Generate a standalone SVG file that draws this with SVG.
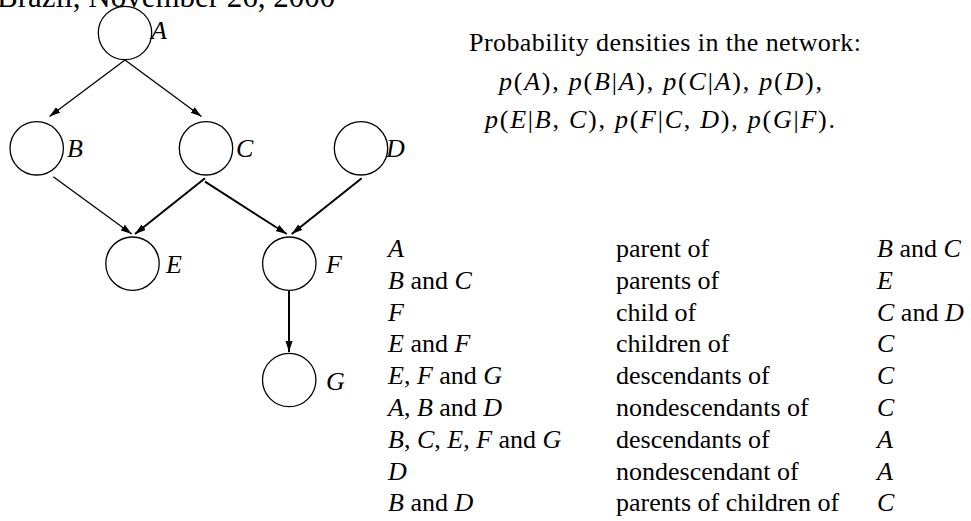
<svg xmlns="http://www.w3.org/2000/svg" width="971" height="521" viewBox="0 0 971 521">
<defs>
<marker id="ah" markerUnits="userSpaceOnUse" markerWidth="12" markerHeight="8" refX="11" refY="3.5" orient="auto">
<path d="M0,0 L11,3.5 L0,7 z" fill="#000"/>
</marker>
</defs>
<style>
.t{font-family:"Liberation Serif","Times New Roman",serif;font-size:26px;fill:#000}
.m{font-style:italic}
.lbl{font-family:"Liberation Serif","Times New Roman",serif;font-style:italic;font-size:26px;fill:#000}
.n{fill:#fff;stroke:#000;stroke-width:1.3}
.e{fill:none;stroke:#000;stroke-width:1.3;marker-end:url(#ah)}
.ek{fill:none;stroke:#000;stroke-width:2;marker-end:url(#ah)}
</style>
<rect width="971" height="521" fill="#fff"/>
<text class="t" x="-3" y="7" style="font-size:31px">Brazil, November 26, 2000</text>

<g id="connectors">
<line class="e" x1="125" y1="60" x2="49.5" y2="116.5"/>
<line class="e" x1="125" y1="60" x2="201.5" y2="116.5"/>
<line class="e" x1="53.3" y1="176.7" x2="131.7" y2="234"/>
<line class="ek" x1="205" y1="178.3" x2="135" y2="234"/>
<line class="ek" x1="205" y1="181.7" x2="286.7" y2="234"/>
<line class="ek" x1="361.7" y1="178.3" x2="291.7" y2="234"/>
<line class="ek" x1="289" y1="291" x2="289" y2="352"/>
</g>

<g id="node-A"><circle class="n" cx="125" cy="33" r="26.7"/><text class="lbl" x="151" y="38.5">A</text></g>
<g id="node-B"><circle class="n" cx="36.7" cy="148.3" r="26.7"/><text class="lbl" x="67" y="157">B</text></g>
<g id="node-C"><circle class="n" cx="206" cy="148.3" r="26.7"/><text class="lbl" x="236" y="157">C</text></g>
<g id="node-D"><circle class="n" cx="361" cy="148.3" r="26.7"/><text class="lbl" x="386" y="157">D</text></g>
<g id="node-E"><circle class="n" cx="132.5" cy="263.7" r="26.7"/><text class="lbl" x="166" y="273">E</text></g>
<g id="node-F"><circle class="n" cx="289.3" cy="263.7" r="26.7"/><text class="lbl" x="326" y="273">F</text></g>
<g id="node-G"><circle class="n" cx="289.2" cy="380" r="26.7"/><text class="lbl" x="326" y="390">G</text></g>

<g id="densities">
<text class="t" x="469" y="51" textLength="392" lengthAdjust="spacing">Probability densities in the network:</text>
<text class="t" x="499" y="90" textLength="323" lengthAdjust="spacing"><tspan class="m">p</tspan>(<tspan class="m">A</tspan>), <tspan class="m">p</tspan>(<tspan class="m">B</tspan>|<tspan class="m">A</tspan>), <tspan class="m">p</tspan>(<tspan class="m">C</tspan>|<tspan class="m">A</tspan>), <tspan class="m">p</tspan>(<tspan class="m">D</tspan>),</text>
<text class="t" x="485" y="128" textLength="350" lengthAdjust="spacing"><tspan class="m">p</tspan>(<tspan class="m">E</tspan>|<tspan class="m">B</tspan>, <tspan class="m">C</tspan>), <tspan class="m">p</tspan>(<tspan class="m">F</tspan>|<tspan class="m">C</tspan>, <tspan class="m">D</tspan>), <tspan class="m">p</tspan>(<tspan class="m">G</tspan>|<tspan class="m">F</tspan>).</text>
</g>

<g id="table">
<text class="t" x="388" y="257"><tspan class="m">A</tspan></text>
<text class="t" x="616" y="257">parent of</text>
<text class="t" x="877" y="257"><tspan class="m">B</tspan> and <tspan class="m">C</tspan></text>

<text class="t" x="388" y="288.8"><tspan class="m">B</tspan> and <tspan class="m">C</tspan></text>
<text class="t" x="616" y="288.8">parents of</text>
<text class="t" x="877" y="288.8"><tspan class="m">E</tspan></text>

<text class="t" x="388" y="320.6"><tspan class="m">F</tspan></text>
<text class="t" x="616" y="320.6">child of</text>
<text class="t" x="877" y="320.6"><tspan class="m">C</tspan> and <tspan class="m">D</tspan></text>

<text class="t" x="388" y="352.4"><tspan class="m">E</tspan> and <tspan class="m">F</tspan></text>
<text class="t" x="616" y="352.4">children of</text>
<text class="t" x="877" y="352.4"><tspan class="m">C</tspan></text>

<text class="t" x="388" y="384.2"><tspan class="m">E</tspan>, <tspan class="m">F</tspan> and <tspan class="m">G</tspan></text>
<text class="t" x="616" y="384.2">descendants of</text>
<text class="t" x="877" y="384.2"><tspan class="m">C</tspan></text>

<text class="t" x="388" y="416"><tspan class="m">A</tspan>, <tspan class="m">B</tspan> and <tspan class="m">D</tspan></text>
<text class="t" x="616" y="416">nondescendants of</text>
<text class="t" x="877" y="416"><tspan class="m">C</tspan></text>

<text class="t" x="388" y="447.8"><tspan class="m">B</tspan>, <tspan class="m">C</tspan>, <tspan class="m">E</tspan>, <tspan class="m">F</tspan> and <tspan class="m">G</tspan></text>
<text class="t" x="616" y="447.8">descendants of</text>
<text class="t" x="877" y="447.8"><tspan class="m">A</tspan></text>

<text class="t" x="388" y="479.6"><tspan class="m">D</tspan></text>
<text class="t" x="616" y="479.6">nondescendant of</text>
<text class="t" x="877" y="479.6"><tspan class="m">A</tspan></text>

<text class="t" x="388" y="511.4"><tspan class="m">B</tspan> and <tspan class="m">D</tspan></text>
<text class="t" x="616" y="511.4">parents of children of</text>
<text class="t" x="877" y="511.4"><tspan class="m">C</tspan></text>
</g>
</svg>
